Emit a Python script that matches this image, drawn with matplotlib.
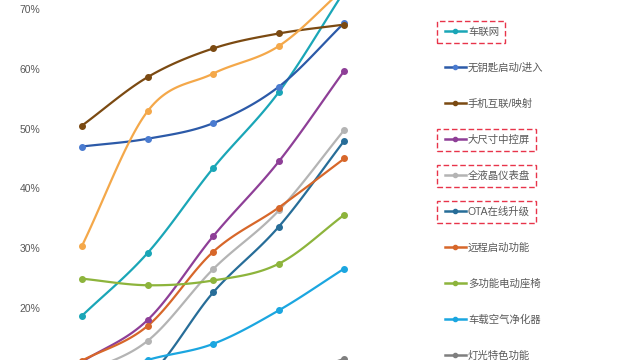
import numpy as np
import matplotlib
matplotlib.use("Agg")
import matplotlib.pyplot as plt
from matplotlib.lines import Line2D
from matplotlib.patches import Rectangle

plt.rcParams['font.family'] = ['Liberation Sans', 'Noto Sans CJK SC', 'DejaVu Sans']

# values in %, five periods left to right
periods = [0, 1, 2, 3, 4]
lianwang = [18.7, 29.2, 43.4, 56.1, 73.0]       # 车联网
keyless = [47.0, 48.3, 50.9, 57.0, 67.7]        # 无钥匙启动/进入
phone_link = [50.5, 58.6, 63.4, 65.9, 67.4]     # 手机互联/映射
unlabeled = [30.4, 52.9, 59.2, 63.8, 73.5]      # legend entry above the crop
big_screen = [11.0, 18.0, 32.0, 44.5, 59.7]     # 大尺寸中控屏
lcd_cluster = [9.0, 14.5, 26.5, 36.3, 49.8]     # 全液晶仪表盘
ota = [5.0, 8.5, 22.6, 33.6, 48.0]              # OTA在线升级
remote_start = [11.2, 17.0, 29.4, 36.8, 45.0]   # 远程启动功能
seats = [24.9, 23.8, 24.6, 27.4, 35.6]          # 多功能电动座椅
air_purifier = [7.5, 11.3, 14.0, 19.6, 26.6]    # 车载空气净化器
lights = [3.0, 5.0, 6.5, 8.0, 11.5]             # 灯光特色功能

yticks = [20, 30, 40, 50, 60, 70]

series = [
    ("车联网", lianwang, "#1AA6B7", "#1AA6B7"),
    ("无钥匙启动/进入", keyless, "#2C5AA8", "#4A7BD0"),
    ("手机互联/映射", phone_link, "#7B4A12", "#7B4A12"),
    ("_nolegend_", unlabeled, "#F4A84A", "#F4A84A"),
    ("大尺寸中控屏", big_screen, "#8E3F97", "#8E3F97"),
    ("全液晶仪表盘", lcd_cluster, "#B4B4B4", "#B4B4B4"),
    ("OTA在线升级", ota, "#276D98", "#276D98"),
    ("远程启动功能", remote_start, "#D7672A", "#D7672A"),
    ("多功能电动座椅", seats, "#8DB43C", "#8DB43C"),
    ("车载空气净化器", air_purifier, "#1BA6E0", "#1BA6E0"),
    ("灯光特色功能", lights, "#7F7F7F", "#7F7F7F"),
]
boxed = ["车联网", "大尺寸中控屏", "全液晶仪表盘", "OTA在线升级"]


def smooth(x, y, n=30):
    # Catmull-Rom curve through the points, like a spreadsheet "smoothed line"
    x = np.asarray(x, float)
    y = np.asarray(y, float)
    px = np.concatenate([[2*x[0]-x[1]], x, [2*x[-1]-x[-2]]])
    py = np.concatenate([[2*y[0]-y[1]], y, [2*y[-1]-y[-2]]])
    xs, ys = [], []
    t = np.linspace(0, 1, n)
    for i in range(1, len(px)-2):
        for p, out in ((px, xs), (py, ys)):
            p0, p1, p2, p3 = p[i-1], p[i], p[i+1], p[i+2]
            out.extend(0.5*((2*p1) + (-p0+p2)*t + (2*p0-5*p1+4*p2-p3)*t**2
                            + (-p0+3*p1-3*p2+p3)*t**3))
    return np.array(xs), np.array(ys)


fig = plt.figure(figsize=(6.4, 3.6), dpi=100)
ax = fig.add_axes([50/640, 0, 590/640, 1])

handles = []
for label, vals, col, mcol in series:
    sx, sy = smooth(periods, vals)
    ax.plot(sx, sy, color=col, lw=1.6, solid_capstyle='round')
    ax.plot(periods, vals, 'o', color=mcol, ms=4, zorder=3)
    if label != "_nolegend_":
        handles.append(Line2D([], [], color=col, lw=1.8, marker='o', ms=3,
                              markerfacecolor=mcol, markeredgecolor=mcol, label=label))

ax.set_xlim(-0.488, 8.506)
ax.set_ylim(11.3, 71.5)
ax.set_yticks(yticks)
ax.set_yticklabels([f"{v}%" for v in yticks], color="#595959", fontsize=7.5)
ax.tick_params(axis='y', length=0, pad=7)
ax.set_xticks([])
for s in ax.spines.values():
    s.set_visible(False)

leg = ax.legend(handles=handles, loc='upper left', bbox_to_anchor=(445/640, 1 - 27/360),
                bbox_transform=fig.transFigure, frameon=False, fontsize=7.5,
                labelspacing=2.48, handlelength=2.0, handletextpad=0.2,
                borderpad=0, borderaxespad=0)
for t in leg.get_texts():
    t.set_color("#595959")

# red dashed boxes around highlighted legend entries
fig.canvas.draw()
r = fig.canvas.get_renderer()
for line, text in zip(leg.legend_handles, leg.get_texts()):
    if text.get_text() in boxed:
        tb = text.get_window_extent(r)
        lb = line.get_window_extent(r)
        x0 = min(tb.x0, lb.x0) - 6
        x1 = tb.x1 + 6
        yc = (tb.y0 + tb.y1) / 2
        fig.patches.append(Rectangle((x0/640, (yc-11)/360), (x1-x0)/640, 22/360,
                                     transform=fig.transFigure, fill=False,
                                     edgecolor="#E8344A", lw=1.0, ls=(0, (4, 2))))

fig.savefig("out.png", dpi=100)
